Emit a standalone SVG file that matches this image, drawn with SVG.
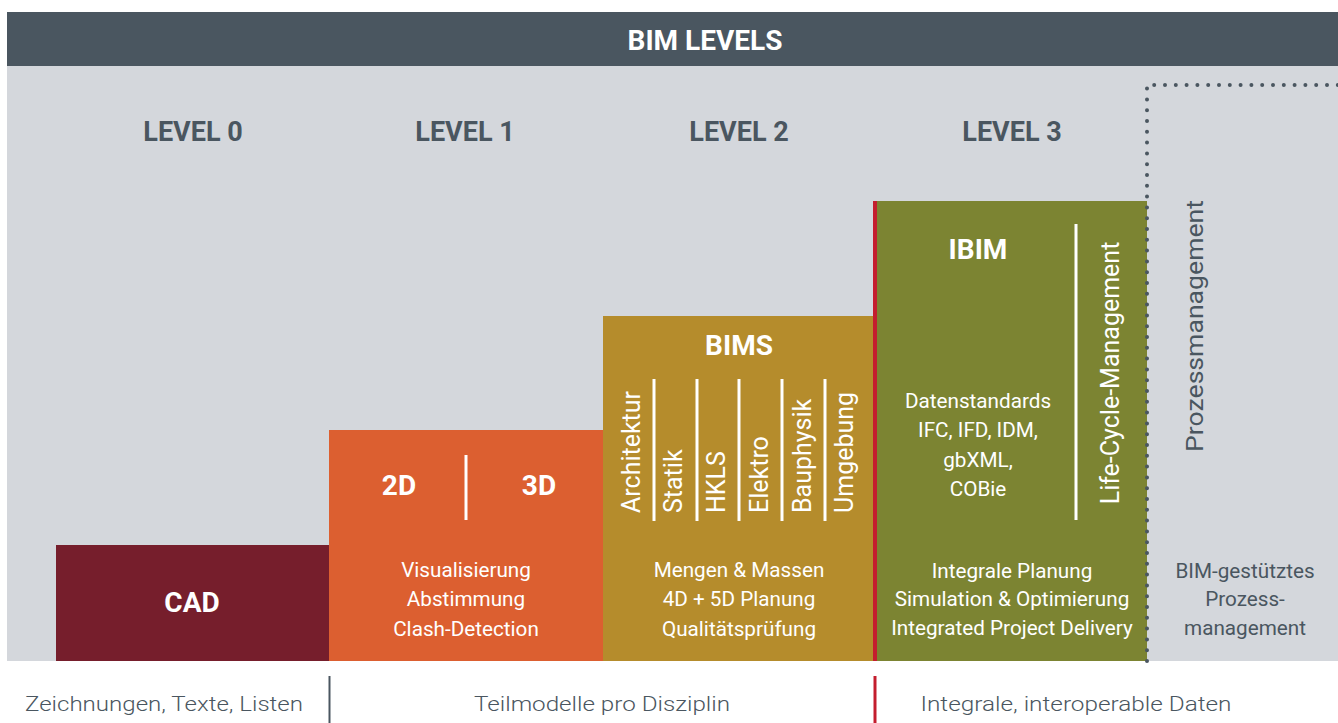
<svg xmlns="http://www.w3.org/2000/svg" width="1338" height="723" viewBox="0 0 1338 723">
<style>
text{font-family:Roboto,"Liberation Sans",sans-serif}
.lvl{font-size:27px;font-weight:bold;fill:#4a5660;text-anchor:middle}
.w{fill:#ffffff;text-anchor:middle}
.wb{fill:#ffffff;font-weight:bold;text-anchor:middle;font-size:28px}
.body{font-size:20.7px}
.g{fill:#4a5660;text-anchor:middle}
.rot{font-size:25px;fill:#ffffff}
.ft{font-size:21px;font-weight:300}
.wl{stroke:#ffffff;stroke-width:3}
</style>
<rect width="1338" height="723" fill="#ffffff"/>
<g id="header">
<rect x="7" y="12" width="1331" height="54" fill="#4a5660"/>
<text x="705" y="50" class="wb">BIM LEVELS</text>
</g>
<rect id="background" x="7" y="66" width="1331" height="595" fill="#d4d7dc"/>
<g id="levels">
<text x="193" y="141" class="lvl">LEVEL 0</text>
<text x="465" y="141" class="lvl">LEVEL 1</text>
<text x="739" y="141" class="lvl">LEVEL 2</text>
<text x="1012" y="141" class="lvl">LEVEL 3</text>
</g>
<g id="cad">
<rect x="56" y="545" width="273" height="116" fill="#761e2c"/>
<text x="192" y="612" class="wb">CAD</text>
</g>
<g id="level1">
<rect x="329" y="430" width="274" height="231" fill="#dc5f30"/>
<text x="399" y="495" class="wb">2D</text>
<text x="539" y="495" class="wb">3D</text>
<line x1="466" y1="455" x2="466" y2="520" class="wl"/>
<text class="w body" x="466" y="577">Visualisierung</text>
<text class="w body" x="466" y="606">Abstimmung</text>
<text class="w body" x="466" y="636">Clash-Detection</text>
</g>
<g id="bims">
<rect x="603" y="316" width="273" height="345" fill="#b58c2c"/>
<text x="739" y="355" class="wb">BIMS</text>
<line x1="654" y1="379" x2="654" y2="521" class="wl"/>
<line x1="697" y1="379" x2="697" y2="521" class="wl"/>
<line x1="739" y1="379" x2="739" y2="521" class="wl"/>
<line x1="782" y1="379" x2="782" y2="521" class="wl"/>
<line x1="825" y1="379" x2="825" y2="521" class="wl"/>
<text class="rot" transform="translate(640,513) rotate(-90)">Architektur</text>
<text class="rot" transform="translate(682,513) rotate(-90)">Statik</text>
<text class="rot" transform="translate(725,513) rotate(-90)">HKLS</text>
<text class="rot" transform="translate(768,513) rotate(-90)">Elektro</text>
<text class="rot" transform="translate(811,513) rotate(-90)">Bauphysik</text>
<text class="rot" transform="translate(853,513) rotate(-90)">Umgebung</text>
<text class="w body" x="739" y="577">Mengen &amp; Massen</text>
<text class="w body" x="739" y="606">4D + 5D Planung</text>
<text class="w body" x="739" y="636">Qualitätsprüfung</text>
</g>
<g id="ibim">
<rect x="877" y="201" width="270" height="460" fill="#7c8432"/>
<rect x="873" y="201" width="4" height="460" fill="#c41e2e"/>
<text x="978" y="259" class="wb">IBIM</text>
<line x1="1076" y1="224" x2="1076" y2="520" class="wl"/>
<text class="rot" text-anchor="middle" transform="translate(1119,373) rotate(-90)">Life-Cycle-Management</text>
<text class="w body" x="978" y="408">Datenstandards</text>
<text class="w body" x="978" y="437">IFC, IFD, IDM,</text>
<text class="w body" x="978" y="467">gbXML,</text>
<text class="w body" x="978" y="496">COBie</text>
<text class="w body" x="1012" y="578">Integrale Planung</text>
<text class="w body" x="1012" y="606">Simulation &amp; Optimierung</text>
<text class="w body" x="1012" y="635">Integrated Project Delivery</text>
</g>
<g id="prozess">
<text class="g" font-size="24.5" textLength="252" lengthAdjust="spacingAndGlyphs" transform="translate(1203,326) rotate(-90)">Prozessmanagement</text>
<text class="g body" x="1245" y="578">BIM-gestütztes</text>
<text class="g body" x="1245" y="606">Prozess-</text>
<text class="g body" x="1245" y="635">management</text>
</g>
<g id="connectors">
<path d="M1147 661 V85 H1338" fill="none" stroke="#4a5660" stroke-width="4" stroke-linecap="round" stroke-dasharray="0 10.8"/>
<line x1="329.5" y1="676" x2="329.5" y2="723" stroke="#4a5660" stroke-width="2"/>
<line x1="875" y1="676" x2="875" y2="723" stroke="#c41e2e" stroke-width="3"/>
</g>
<g id="footer">
<text class="g ft" x="164" y="711" textLength="278" lengthAdjust="spacingAndGlyphs">Zeichnungen, Texte, Listen</text>
<text class="g ft" x="602" y="711" textLength="256" lengthAdjust="spacingAndGlyphs">Teilmodelle pro Disziplin</text>
<text class="g ft" x="1076" y="711" textLength="311" lengthAdjust="spacingAndGlyphs">Integrale, interoperable Daten</text>
</g>
</svg>
